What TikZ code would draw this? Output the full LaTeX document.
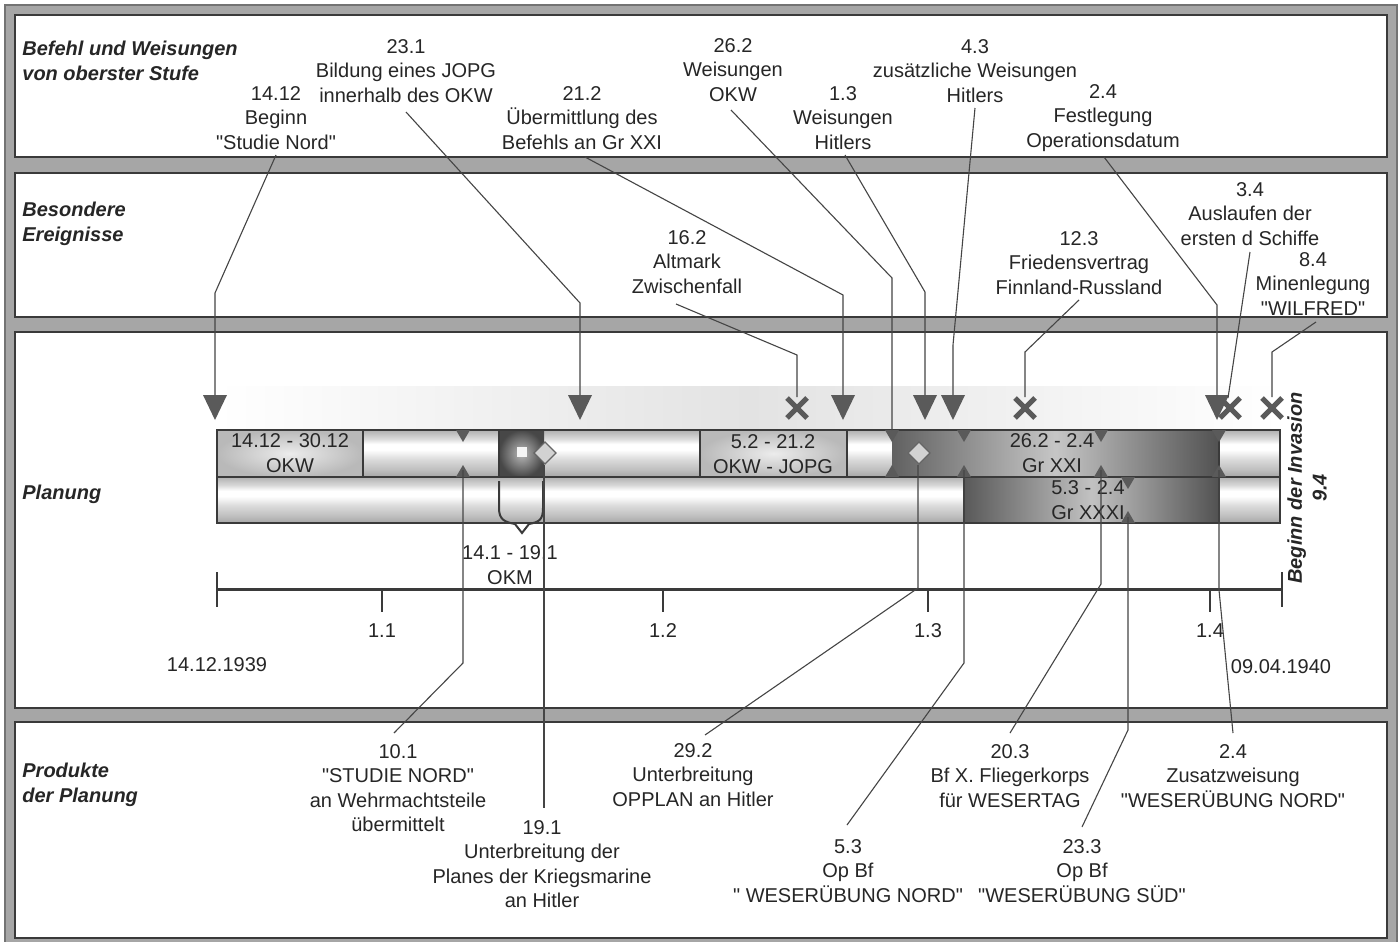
\documentclass[tikz,border=0pt]{standalone}
\usepackage{fontspec}
\setmainfont{Liberation Sans}[Ligatures=TeXOff]
\definecolor{frm}{HTML}{A6A6A6}
\definecolor{bdr}{HTML}{3A3A3A}
\definecolor{ln}{HTML}{454545}
\definecolor{mk}{HTML}{5A5A5A}
\definecolor{txt}{HTML}{262626}
\pgfdeclareverticalshading{cyl}{100bp}{color(0bp)=(gray!70); color(25bp)=(gray!70); color(33bp)=(gray!50); color(44bp)=(gray!28); color(54bp)=(white); color(60bp)=(white); color(66bp)=(gray!30); color(75bp)=(gray!62); color(100bp)=(gray!62)}
\begin{document}
\begin{tikzpicture}[x=0.5pt,y=-0.5pt,
  every node/.style={font=\fontsize{10}{12.2}\selectfont, text=txt, inner sep=0pt},
  lbl/.style={align=center},
  ttl/.style={align=left, anchor=west, font=\fontsize{10}{12.2}\selectfont\bfseries\itshape, text=black!85},
  conn/.style={draw=ln, line width=0.55pt},
  panel/.style={draw=bdr, line width=1.1pt, fill=white},
  boxout/.style={draw=bdr, line width=0.7pt},
  dtri/.pic={\fill[mk] (-12,-12) -- (12,-12) -- (0,13) -- cycle;},
  xmk/.pic={\draw[mk, line width=2.6pt] (-10,-10) -- (10,10) (-10,10) -- (10,-10);},
  tdn/.pic={\fill[mk] (-7,0) -- (7,0) -- (0,12) -- cycle;},
  tup/.pic={\fill[mk] (-7,0) -- (7,0) -- (0,-12) -- cycle;},
  diam/.pic={\draw[fill=gray!35, draw=black!60, line width=0.6pt] (-11,0) -- (0,-11) -- (11,0) -- (0,11) -- cycle;}
]
\useasboundingbox (0,0) rectangle (1399,942);
\fill[white] (0,0) rectangle (1399,942);
\draw[fill=frm, draw=black!55, line width=0.6pt] (5,5) rectangle (1397,945);
% panels
\draw[panel] (15,15) rectangle (1387,157);
\draw[panel] (15,173) rectangle (1387,317);
\draw[panel] (15,332) rectangle (1387,708);
\draw[panel] (15,722) rectangle (1387,938);
% titles
\node[ttl] (t1) at (22,61) {Befehl und Weisungen\\von oberster Stufe};
\node[ttl] (t2) at (22,224) {Besondere\\Ereignisse};
\node[ttl] (t3) at (22,494) {Planung};
\node[ttl] (t4) at (22,785) {Produkte\\der Planung};
% panel 1 labels
\node[lbl] (l1) at (276,118) {14.12\\Beginn\\"Studie Nord"};
\node[lbl] (l2) at (406,71) {23.1\\Bildung eines JOPG\\innerhalb des OKW};
\node[lbl] (l3) at (582,118) {21.2\\Übermittlung des\\Befehls an Gr XXI};
\node[lbl] (l4) at (733,70) {26.2\\Weisungen\\OKW};
\node[lbl] (l5) at (843,118) {1.3\\Weisungen\\Hitlers};
\node[lbl] (l6) at (975,71) {4.3\\zusätzliche Weisungen\\Hitlers};
\node[lbl] (l7) at (1103,118) {2.4\\Festlegung\\Operationsdatum};
% panel 2 labels
\node[lbl] (e1) at (687,262) {16.2\\Altmark\\Zwischenfall};
\node[lbl] (e2) at (1079,263) {12.3\\Friedensvertrag\\Finnland-Russland};
\node[lbl] (e3) at (1250,214) {3.4\\Auslaufen der\\ersten d Schiffe};
\node[lbl] (e4) at (1313,284) {8.4\\Minenlegung\\"WILFRED"};
% panel 4 labels
\node[lbl] (p1) at (398,788) {10.1\\"STUDIE NORD"\\an Wehrmachtsteile\\übermittelt};
\node[lbl] (p2) at (542,864) {19.1\\Unterbreitung der\\Planes der Kriegsmarine\\an Hitler};
\node[lbl] (p3) at (693,775) {29.2\\Unterbreitung\\OPPLAN an Hitler};
\node[lbl] (p4) at (848,871) {5.3\\Op Bf\\" WESERÜBUNG NORD"};
\node[lbl] (p5) at (1010,776) {20.3\\Bf X. Fliegerkorps\\für WESERTAG};
\node[lbl] (p6) at (1082,871) {23.3\\Op Bf\\"WESERÜBUNG SÜD"};
\node[lbl] (p7) at (1233,776) {2.4\\Zusatzweisung\\"WESERÜBUNG NORD"};
% faint band
\shade[left color=white, right color=white, middle color=gray!22] (217,386) rectangle (1280,430);
% bars
\shade[shading=cyl] (217,430) rectangle (1280,477);
\shade[shading=cyl] (217,477) rectangle (1280,523);
\shade[inner color=gray!15, outer color=gray!55] (217,430) rectangle (363,477);
\shade[inner color=gray!15, outer color=gray!55] (700,430) rectangle (847,477);
\shade[inner color=gray!55, outer color=black!72] (499,430) rectangle (544,477);
\fill[gray!8] (517,447) rectangle (527,457);
\shade[left color=black!62, right color=black!68, middle color=gray!45] (892,430) rectangle (1219,477);
\shade[left color=black!65, right color=black!68, middle color=gray!48] (964,477) rectangle (1219,523);
\draw[boxout] (217,430) rectangle (1280,523);
\draw[boxout] (217,477) -- (1280,477);
\draw[boxout] (363,430) -- (363,477);
\draw[boxout] (499,430) -- (499,477);
\draw[boxout] (700,430) -- (700,477);
\draw[boxout] (847,430) -- (847,477);
\draw[boxout] (1219,430) -- (1219,523);
\draw[boxout] (964,477) -- (964,523);
% bar labels
\node[lbl] (b1) at (290,453) {14.12 - 30.12\\OKW};
\node[lbl] (b2) at (773,454) {5.2 - 21.2\\OKW - JOPG};
\node[lbl] (b3) at (1052,453) {26.2 - 2.4\\Gr XXI};
\node[lbl] (b4) at (1088,500) {5.3 - 2.4\\Gr XXXI};
% bar markers
\foreach \xx in {463,892,964,1101,1219}{
  \pic at (\xx,430) {tdn};
  \pic at (\xx,477) {tup};
}
\pic at (1128,477) {tdn};
\pic at (1128,523) {tup};
\pic at (545,453) {diam};
\pic at (919,453) {diam};
% brace
\draw[bdr, line width=1pt] (499,481) -- (499,508) .. controls (499,520) and (505,522) .. (515,524) -- (522,533) -- (529,524) .. controls (539,522) and (543,520) .. (543,508) -- (543,481);
\node[lbl] (okm) at (510,565) {14.1 - 19.1\\OKM};
% top markers
\foreach \xx in {215,580,843,925,953,1217}{ \pic at (\xx,407) {dtri}; }
\foreach \xx in {797,1025,1230,1272}{ \pic at (\xx,408) {xmk}; }
% axis
\coordinate (ax0) at (217,589);
\coordinate (ax1) at (1282,589);
\draw[bdr, line width=1.5pt] (ax0) -- (ax1);
\draw[bdr, line width=0.8pt] (217,572) -- (217,607) (1282,572) -- (1282,607);
\foreach \xx in {382,663,928,1210}{ \draw[bdr, line width=0.8pt] (\xx,589) -- (\xx,612); }
\node (d1) at (382,631) {1.1};
\node (d2) at (663,631) {1.2};
\node (d3) at (928,631) {1.3};
\node (d4) at (1210,631) {1.4};
\node (d0) at (217,665) {14.12.1939};
\node (d5) at (1281,667) {09.04.1940};
\node[rotate=90, align=center, font=\fontsize{10}{12.4}\selectfont\bfseries\itshape, text=black!85] (inv) at (1307,488) {Beginn der Invasion\\9.4};
% connectors top
\coordinate (s1) at (276,155); \coordinate (k1) at (215,293); \coordinate (m1) at (215,395);
\coordinate (s2) at (406,112); \coordinate (k2) at (580,303); \coordinate (m2) at (580,395);
\coordinate (s3) at (585,157); \coordinate (k3) at (843,295); \coordinate (m3) at (843,395);
\coordinate (s4) at (676,304); \coordinate (k4) at (797,355); \coordinate (m4) at (797,397);
\coordinate (s5) at (731,110); \coordinate (k5) at (892,278); \coordinate (m5) at (892,430);
\coordinate (s6) at (845,155); \coordinate (k6) at (925,292); \coordinate (m6) at (925,395);
\coordinate (s7) at (975,108); \coordinate (k7) at (953,345); \coordinate (m7) at (953,395);
\coordinate (s8) at (1104,157); \coordinate (k8) at (1217,305); \coordinate (m8) at (1217,395);
\coordinate (s9) at (1079,300); \coordinate (k9) at (1025,352); \coordinate (m9) at (1025,397);
\coordinate (s10) at (1250,252); \coordinate (m10) at (1228,398);
\coordinate (s11) at (1316,322); \coordinate (k11) at (1272,352); \coordinate (m11) at (1272,397);
\draw[conn] (s1) -- (k1) -- (m1);
\draw[conn] (s2) -- (k2) -- (m2);
\draw[conn] (s3) -- (k3) -- (m3);
\draw[conn] (s4) -- (k4) -- (m4);
\draw[conn] (s5) -- (k5) -- (m5);
\draw[conn] (s6) -- (k6) -- (m6);
\draw[conn] (s7) -- (k7) -- (m7);
\draw[conn] (s8) -- (k8) -- (m8);
\draw[conn] (s9) -- (k9) -- (m9);
\draw[conn] (s10) -- (m10);
\draw[conn] (s11) -- (k11) -- (m11);
% connectors bottom
\coordinate (r1) at (463,470); \coordinate (h1) at (463,663); \coordinate (u1) at (394,733);
\coordinate (r2) at (544,465); \coordinate (u2) at (544,808);
\coordinate (r3) at (918,465); \coordinate (h3) at (918,588); \coordinate (u3) at (705,735);
\coordinate (r4) at (964,470); \coordinate (h4) at (964,663); \coordinate (u4) at (847,825);
\coordinate (r5) at (1101,470); \coordinate (h5) at (1101,584); \coordinate (u5) at (1010,733);
\coordinate (r6) at (1128,517); \coordinate (h6) at (1128,730); \coordinate (u6) at (1082,827);
\coordinate (r7) at (1219,470); \coordinate (h7) at (1219,590); \coordinate (u7) at (1233,733);
\draw[conn] (r1) -- (h1) -- (u1);
\draw[conn] (r2) -- (u2);
\draw[conn] (r3) -- (h3) -- (u3);
\draw[conn] (r4) -- (h4) -- (u4);
\draw[conn] (r5) -- (h5) -- (u5);
\draw[conn] (r6) -- (h6) -- (u6);
\draw[conn] (r7) -- (h7) -- (u7);
\end{tikzpicture}
\end{document}
